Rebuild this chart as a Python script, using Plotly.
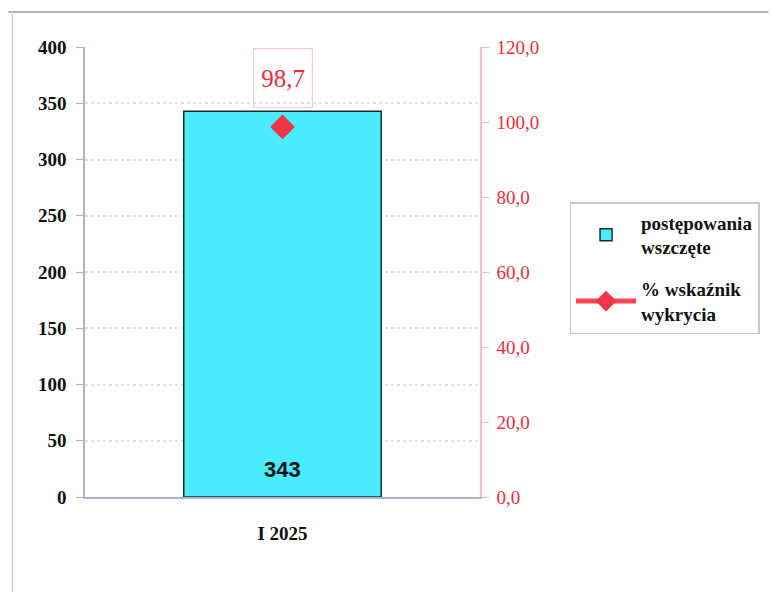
import plotly.graph_objects as go

categories = ["I 2025"]
cases_started = [343]
detection_rate = [98.7]
left_ticks = [0, 50, 100, 150, 200, 250, 300, 350, 400]
right_ticks = [0, 20, 40, 60, 80, 100, 120]

L, R, T, B = 85, 290, 47, 95
W, H = 772, 592
pw, ph = W - L - R, H - T - B

def px_x(p):
    return (p - L) / pw

def px_y(p):
    return (H - B - p) / ph

SERIF = "Liberation Serif, Times New Roman, serif"

fig = go.Figure()
fig.add_trace(go.Bar(
    x=categories, y=cases_started, name="postępowania<br>wszczęte",
    marker=dict(color="#48ECFC", line=dict(color="#1c2a33", width=1.5)),
    width=0.5, legendgroup="a",
    yaxis="y"))
fig.add_trace(go.Scatter(
    x=categories, y=detection_rate, name="% wskaźnik<br>wykrycia",
    mode="lines+markers", legendgroup="b",
    marker=dict(symbol="diamond", size=19, color="#F23447"),
    line=dict(color="#FF4455", width=5),
    yaxis="y2"))

for c, v in zip(categories, cases_started):
    fig.add_annotation(x=c, y=0, xref="x", yref="y", text=str(v), showarrow=False,
                       yshift=28,
                       font=dict(family="Liberation Sans, Arial, sans-serif", size=22,
                                 color="#111111", weight="bold"))

for c, v in zip(categories, detection_rate):
    fig.add_annotation(x=c, y=v, xref="x", yref="y2",
                       text=f"{v:.1f}".replace(".", ","), showarrow=False,
                       yshift=49, width=56, height=56,
                       bordercolor="#FFC8D0", borderwidth=1.2,
                       font=dict(family=SERIF, size=25, color="#F5283C"))

# outer frame
fig.add_shape(type="line", xref="paper", yref="paper",
              x0=px_x(8), x1=px_x(772), y0=px_y(12), y1=px_y(12),
              line=dict(color="#9a9a9a", width=1.5))
fig.add_shape(type="line", xref="paper", yref="paper",
              x0=px_x(12), x1=px_x(12), y0=px_y(12), y1=px_y(592),
              line=dict(color="#c8d4e4", width=1.5))

fig.update_layout(
    width=W, height=H, margin=dict(l=L, r=R, t=T, b=B),
    paper_bgcolor="white", plot_bgcolor="white",
    separators=",.",
    xaxis=dict(showline=True, linecolor="#a8b4c8", linewidth=1.5,
               tickfont=dict(family=SERIF, size=19, color="#111111", weight="bold"),
               ticks="", ticklabelstandoff=18, showgrid=False),
    yaxis=dict(range=[0, 400], tickvals=left_ticks, showline=True,
               linecolor="#a8b4c8", linewidth=1.5, ticks="outside", ticklen=7,
               tickcolor="#a8b4c8", ticklabelstandoff=6,
               tickfont=dict(family=SERIF, size=19, color="#111111", weight="bold"),
               showgrid=True, gridcolor="#e0e0e0", griddash="dot", gridwidth=1.5,
               zeroline=False),
    yaxis2=dict(range=[0, 120], tickvals=right_ticks, tickformat=".1f",
                overlaying="y", side="right", showline=True, linecolor="#FFB8C4",
                linewidth=1.5, ticks="outside", ticklen=7, tickcolor="#FFB8C4",
                ticklabelstandoff=4,
                tickfont=dict(family=SERIF, size=19, color="#F5283C"),
                showgrid=False, zeroline=False),
    legend=dict(x=px_x(572), y=px_y(202), xanchor="left", yanchor="top",
                bordercolor="#c8c8c8", borderwidth=1.5, bgcolor="white",
                font=dict(family=SERIF, size=19, color="#111111", weight="bold"),
                itemwidth=60, tracegroupgap=14),
    showlegend=True,
)

fig.write_html("out.html", config={"displayModeBar": False},
               post_script="document.body.style.margin='0';")
